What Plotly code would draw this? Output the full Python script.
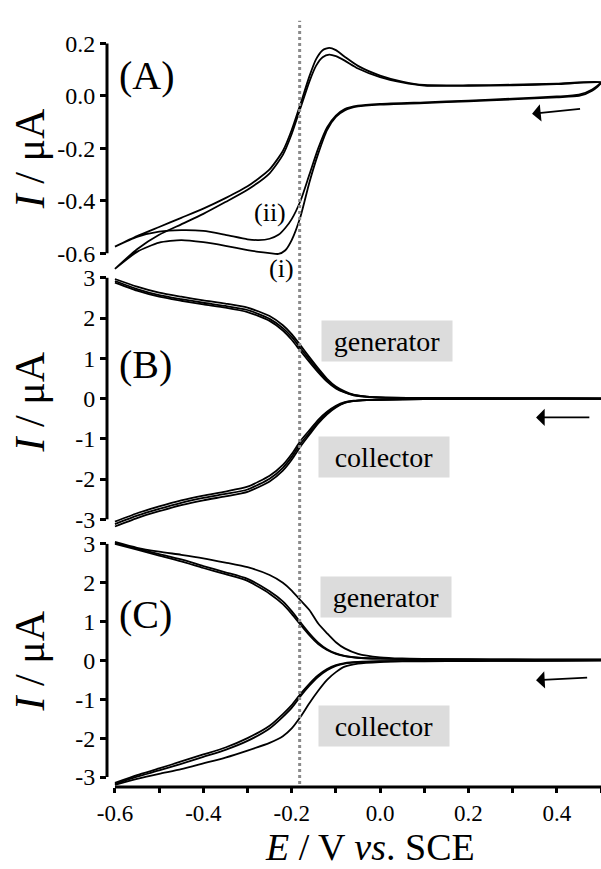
import plotly.graph_objects as go

# ---- data ---------------------------------------------------------------
# (A) two CV loops, forward scan 0.5 -> -0.6 V, reverse scan -0.6 -> 0.5 V
E_A_fwd = [0.5, 0.48, 0.45, 0.4, 0.3, 0.2, 0.1, 0.0, -0.05, -0.08, -0.1, -0.12, -0.14,
           -0.16, -0.18, -0.2, -0.215, -0.23, -0.25, -0.275, -0.3, -0.35, -0.4, -0.45,
           -0.5, -0.55, -0.6]
i_A1_fwd = [0.05, 0.02, 0.0, -0.005, -0.013, -0.02, -0.027, -0.033, -0.04, -0.055, -0.08,
            -0.13, -0.22, -0.33, -0.46, -0.55, -0.59, -0.603, -0.6, -0.595, -0.588, -0.572,
            -0.558, -0.55, -0.56, -0.595, -0.66]
i_A2_fwd = [0.053, 0.025, 0.005, -0.002, -0.01, -0.018, -0.024, -0.03, -0.037, -0.05, -0.075,
            -0.12, -0.2, -0.3, -0.4, -0.47, -0.505, -0.53, -0.545, -0.55, -0.547, -0.53,
            -0.515, -0.512, -0.518, -0.538, -0.575]
E_A_rev = [-0.6, -0.55, -0.5, -0.45, -0.4, -0.35, -0.3, -0.25, -0.22, -0.2, -0.18, -0.16,
           -0.145, -0.13, -0.115, -0.1, -0.08, -0.05, 0.0, 0.05, 0.1, 0.2, 0.3, 0.4, 0.5]
i_A1_rev = [-0.66, -0.585, -0.53, -0.49, -0.45, -0.405, -0.358, -0.295, -0.225, -0.145,
            -0.045, 0.055, 0.115, 0.148, 0.158, 0.152, 0.135, 0.105, 0.072, 0.052, 0.04,
            0.039, 0.041, 0.045, 0.05]
i_A2_rev = [-0.575, -0.535, -0.5, -0.465, -0.43, -0.39, -0.345, -0.28, -0.21, -0.13, -0.03,
            0.075, 0.14, 0.175, 0.184, 0.175, 0.15, 0.115, 0.078, 0.055, 0.042, 0.041, 0.043,
            0.047, 0.053]

# (B) generator / collector, several overlapping cycles
E_B = [-0.6, -0.55, -0.5, -0.45, -0.4, -0.35, -0.3, -0.25, -0.22, -0.2, -0.18, -0.16, -0.14,
       -0.12, -0.1, -0.08, -0.06, -0.03, 0.0, 0.1, 0.2, 0.3, 0.4, 0.5]
b_gen_1 = [2.97, 2.78, 2.63, 2.53, 2.44, 2.36, 2.26, 2.05, 1.82, 1.6, 1.32, 1.03, 0.75, 0.49,
           0.3, 0.18, 0.1, 0.05, 0.03, 0.015, 0.01, 0.005, 0.003, 0.0]
b_gen_2 = [2.92, 2.72, 2.57, 2.47, 2.38, 2.3, 2.2, 1.98, 1.75, 1.53, 1.25, 0.97, 0.7, 0.45,
           0.27, 0.16, 0.09, 0.05, 0.03, 0.015, 0.01, 0.005, 0.003, 0.0]
b_gen_3 = [2.88, 2.68, 2.53, 2.43, 2.34, 2.26, 2.15, 1.93, 1.69, 1.46, 1.18, 0.91, 0.65, 0.42,
           0.25, 0.15, 0.08, 0.04, 0.025, 0.012, 0.008, 0.004, 0.002, 0.0]
b_col_1 = [-3.18, -2.97, -2.8, -2.65, -2.53, -2.43, -2.32, -2.06, -1.79, -1.52, -1.19, -0.9,
           -0.62, -0.39, -0.22, -0.11, -0.065, -0.04, -0.03, -0.015, -0.01, -0.005, -0.003, 0.0]
b_col_2 = [-3.12, -2.91, -2.74, -2.59, -2.47, -2.37, -2.26, -1.99, -1.72, -1.45, -1.12, -0.85,
           -0.58, -0.36, -0.2, -0.1, -0.06, -0.04, -0.03, -0.015, -0.01, -0.005, -0.003, 0.0]
b_col_3 = [-3.06, -2.85, -2.68, -2.53, -2.41, -2.31, -2.19, -1.92, -1.65, -1.38, -1.05, -0.79,
           -0.53, -0.33, -0.18, -0.09, -0.055, -0.035, -0.025, -0.012, -0.008, -0.004, -0.002, 0.0]

# (C) generator / collector, outer cycle + two inner cycles
E_C = [-0.6, -0.55, -0.5, -0.45, -0.4, -0.35, -0.3, -0.25, -0.22, -0.2, -0.18, -0.16, -0.14,
       -0.12, -0.1, -0.08, -0.05, 0.0, 0.05, 0.1, 0.2, 0.3, 0.4, 0.5]
c_gen_out = [3.05, 2.9, 2.8, 2.72, 2.63, 2.52, 2.4, 2.2, 2.0, 1.8, 1.55, 1.3, 0.95, 0.7, 0.47,
             0.31, 0.17, 0.08, 0.05, 0.04, 0.03, 0.025, 0.022, 0.02]
c_gen_in1 = [3.0, 2.85, 2.7, 2.55, 2.38, 2.22, 2.05, 1.72, 1.45, 1.2, 0.92, 0.65, 0.42, 0.27,
             0.17, 0.11, 0.07, 0.045, 0.035, 0.03, 0.025, 0.022, 0.02, 0.02]
c_gen_in2 = [3.02, 2.88, 2.74, 2.6, 2.43, 2.27, 2.1, 1.78, 1.52, 1.27, 0.98, 0.7, 0.46, 0.29,
             0.18, 0.12, 0.07, 0.045, 0.035, 0.03, 0.025, 0.022, 0.02, 0.02]
c_col_out = [-3.2, -3.05, -2.92, -2.8, -2.65, -2.5, -2.32, -2.12, -1.95, -1.75, -1.45, -1.1,
             -0.78, -0.5, -0.3, -0.16, -0.08, -0.04, -0.025, -0.02, -0.015, -0.01, -0.005, 0.0]
c_col_in1 = [-3.15, -2.95, -2.78, -2.6, -2.42, -2.24, -2.0, -1.68, -1.38, -1.15, -0.86, -0.6,
             -0.38, -0.22, -0.12, -0.07, -0.04, -0.02, -0.015, -0.01, -0.008, -0.005, -0.003, 0.0]
c_col_in2 = [-3.18, -2.99, -2.83, -2.66, -2.48, -2.3, -2.07, -1.75, -1.45, -1.22, -0.92, -0.65,
             -0.42, -0.25, -0.14, -0.08, -0.045, -0.022, -0.015, -0.01, -0.008, -0.005, -0.003, 0.0]

x_tickvals = [-0.6, -0.4, -0.2, 0.0, 0.2, 0.4]
x_ticktext = ["-0.6", "-0.4", "-0.2", "0.0", "0.2", "0.4"]
x_minor = [-0.5, -0.3, -0.1, 0.1, 0.3, 0.5]
yA_tickvals = [-0.6, -0.4, -0.2, 0.0, 0.2]
yA_ticktext = ["-0.6", "-0.4", "-0.2", "0.0", "0.2"]
yBC_tickvals = [-3, -2, -1, 0, 1, 2, 3]
yBC_ticktext = ["-3", "-2", "-1", "0", "1", "2", "3"]

E_dotted = -0.182

FONT = "Liberation Serif, Times New Roman, serif"
LINE = dict(color="black", width=1.8, shape="spline", smoothing=0.6)

W, H = 601, 869
M_L, M_B = 107, 82
PLOT_H = H - M_B


def py(p):
    """pixel row (from top of plot area) -> paper y"""
    return 1 - p / PLOT_H


fig = go.Figure()

# panel A: each loop = forward + reverse branch
for i_fwd, i_rev in [(i_A1_fwd, i_A1_rev), (i_A2_fwd, i_A2_rev)]:
    fig.add_trace(go.Scatter(x=E_A_fwd + E_A_rev, y=i_fwd + i_rev, mode="lines",
                             line=LINE, xaxis="x", yaxis="y"))

for ys in [b_gen_1, b_gen_2, b_gen_3, b_col_1, b_col_2, b_col_3]:
    fig.add_trace(go.Scatter(x=E_B, y=ys, mode="lines", line=LINE, xaxis="x", yaxis="y2"))

for ys in [c_gen_out, c_gen_in1, c_gen_in2, c_col_out, c_col_in1, c_col_in2]:
    fig.add_trace(go.Scatter(x=E_C, y=ys, mode="lines", line=LINE, xaxis="x", yaxis="y3"))

tickfont = dict(family=FONT, size=24, color="black")
yaxis_common = dict(anchor="x", showgrid=False, zeroline=False, showline=False,
                    ticks="outside", ticklen=6, tickwidth=2.5, tickcolor="black",
                    tickfont=tickfont)

fig.update_layout(
    width=W, height=H,
    margin=dict(l=M_L, r=0, t=0, b=M_B),
    paper_bgcolor="white", plot_bgcolor="white",
    showlegend=False,
    xaxis=dict(range=[-0.618, 0.5], anchor="y3", showgrid=False, zeroline=False,
               showline=False, tickvals=x_tickvals, ticktext=x_ticktext,
               ticks="outside", ticklen=5, tickwidth=2.5, tickcolor="black",
               tickfont=dict(family=FONT, size=23, color="black"),
               minor=dict(tickvals=x_minor, ticks="outside", ticklen=5,
                          tickwidth=2.5, tickcolor="black")),
    yaxis=dict(domain=[py(265), py(15)], range=[-0.668, 0.2755],
               tickvals=yA_tickvals, ticktext=yA_ticktext, **yaxis_common),
    yaxis2=dict(domain=[py(528), py(268)], range=[-3.29, 3.096],
                tickvals=yBC_tickvals, ticktext=yBC_ticktext, **yaxis_common),
    yaxis3=dict(domain=[0.0, py(535)], range=[-3.257, 3.155],
                tickvals=yBC_tickvals, ticktext=yBC_ticktext, **yaxis_common),
)

# offset axis lines, Origin style
fig.add_shape(type="line", xref="x", yref="paper", x0=-0.6, x1=0.5, y0=0, y1=0,
              line=dict(color="black", width=3))
for yref, lo, hi in [("y", -0.6, 0.2), ("y2", -3, 3), ("y3", -3, 3)]:
    fig.add_shape(type="line", xref="paper", yref=yref, x0=0, x1=0, y0=lo, y1=hi,
                  line=dict(color="black", width=3))

# dotted guide line
fig.add_shape(type="line", xref="x", yref="paper", x0=E_dotted, x1=E_dotted,
              y0=py(784), y1=py(12), line=dict(color="#8a8a8a", width=3, dash="dot"))

# axis titles
fig.add_annotation(text="<i>E</i> / V <i>vs</i>. SCE", xref="paper", yref="paper",
                   x=(370 - M_L) / (W - M_L), y=py(848), showarrow=False,
                   xanchor="center", yanchor="middle",
                   font=dict(family=FONT, size=38, color="black"))
for pix in [152, 398, 660]:
    fig.add_annotation(text="<i>I</i> / μA", xref="paper", yref="paper",
                       x=(30 - M_L) / (W - M_L), y=py(pix),
                       textangle=-90, showarrow=False, xanchor="center", yanchor="middle",
                       font=dict(family=FONT, size=42, color="black"))

# panel letters
for label, pix in [("(A)", 67), ("(B)", 360), ("(C)", 612)]:
    fig.add_annotation(text=label, xref="paper", yref="paper", x=0.02, y=py(pix),
                       showarrow=False, xanchor="left", yanchor="middle",
                       font=dict(family=FONT, size=40, color="black"))

# (i) / (ii)
fig.add_annotation(text="(ii)", xref="x", yref="y", x=-0.25, y=-0.445, showarrow=False,
                   font=dict(family=FONT, size=26, color="black"))
fig.add_annotation(text="(i)", xref="x", yref="y", x=-0.223, y=-0.657, showarrow=False,
                   font=dict(family=FONT, size=26, color="black"))

# scan direction arrows
for yref, x_head, y_head, x_tail, y_tail in [("y", 0.344, -0.068, 0.456, -0.049),
                                             ("y2", 0.353, -0.47, 0.477, -0.47),
                                             ("y3", 0.353, -0.51, 0.472, -0.44)]:
    fig.add_annotation(x=x_head, y=y_head, ax=x_tail, ay=y_tail, xref="x", yref=yref,
                       axref="x", ayref=yref, text="", showarrow=True, arrowhead=1,
                       arrowsize=1.6, arrowwidth=1.8, arrowcolor="black")

# generator / collector tags
for yref, x, y, txt in [("y2", 0.015, 1.425, "generator"), ("y2", 0.008, -1.46, "collector"),
                        ("y3", 0.013, 1.63, "generator"), ("y3", 0.008, -1.68, "collector")]:
    fig.add_annotation(text=txt, xref="x", yref=yref, x=x, y=y, showarrow=False,
                       bgcolor="#dcdcdc", width=122, height=32, borderpad=4,
                       font=dict(family=FONT, size=28, color="black"))

# page body has an 8px default margin; drop it so the figure fills the window exactly
fig.write_html("out.html", config={"displayModeBar": False},
               post_script="document.body.style.margin='0';document.body.style.overflow='hidden';")
